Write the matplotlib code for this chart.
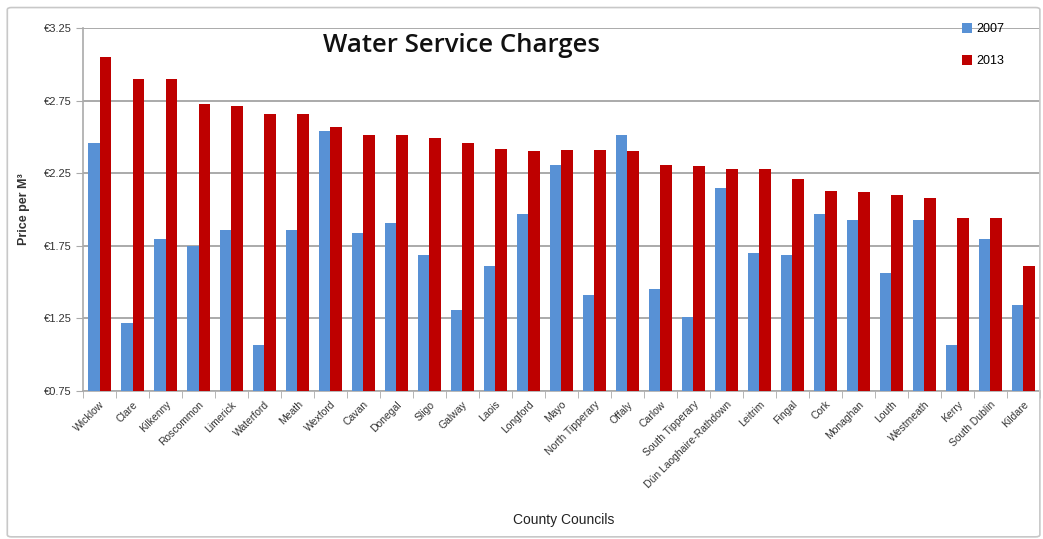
import numpy as np
import matplotlib.pyplot as plt
from matplotlib.patches import FancyBboxPatch

councils = ['Wicklow', 'Clare', 'Kilkenny', 'Roscommon', 'Limerick', 'Waterford',
            'Meath', 'Wexford', 'Cavan', 'Donegal', 'Sligo', 'Galway', 'Laois',
            'Longford', 'Mayo', 'North Tipperary', 'Offaly', 'Carlow',
            'South Tipperary', 'Dún Laoghaire-Rathdown', 'Leitrim', 'Fingal',
            'Cork', 'Monaghan', 'Louth', 'Westmeath', 'Kerry', 'South Dublin',
            'Kildare']
price_2007 = [2.46, 1.22, 1.80, 1.75, 1.86, 1.07, 1.86, 2.54, 1.84, 1.91, 1.69,
              1.31, 1.61, 1.97, 2.31, 1.41, 2.51, 1.45, 1.26, 2.15, 1.70, 1.69,
              1.97, 1.93, 1.56, 1.93, 1.07, 1.80, 1.34]
price_2013 = [3.05, 2.90, 2.90, 2.73, 2.71, 2.66, 2.66, 2.57, 2.51, 2.51, 2.49,
              2.46, 2.42, 2.40, 2.41, 2.41, 2.40, 2.31, 2.30, 2.28, 2.28, 2.21,
              2.13, 2.12, 2.10, 2.08, 1.94, 1.94, 1.61]
yticks = [0.75, 1.25, 1.75, 2.25, 2.75, 3.25]

plt.rcParams['font.family'] = ['Liberation Sans', 'DejaVu Sans']

fig = plt.figure(figsize=(10.43, 5.39), dpi=100)
ax = fig.add_axes([0.0796, 0.2746, 0.9174, 0.6734])

x = np.arange(len(councils))
w = 0.34
ax.bar(x - w / 2, price_2007, w, bottom=0, color='#5891D5', label='2007', zorder=3)
ax.bar(x + w / 2, price_2013, w, bottom=0, color='#BE0000', label='2013', zorder=3)

ax.set_xlim(-0.5, len(councils) - 0.5)
ax.set_ylim(0.75, 3.25)
ax.set_yticks(yticks)
ax.set_yticklabels(['€%.2f' % v for v in yticks], fontsize=8, color='#333333')
ax.yaxis.grid(True, color='#AAAAAA', linewidth=1.4, zorder=0)
ax.tick_params(axis='y', length=5, color='#AAAAAA', pad=3)

# category labels at bar centres, ticks on the group boundaries
ax.set_xticks(x)
ax.set_xticklabels(councils, rotation=45, ha='right', rotation_mode='anchor',
                   fontsize=7.5, color='#333333')
ax.tick_params(axis='x', length=0, pad=6)
ax.set_xticks(np.arange(len(councils) + 1) - 0.5, minor=True)
ax.tick_params(axis='x', which='minor', length=5, color='#AAAAAA')

for side in ['top', 'right']:
    ax.spines[side].set_visible(False)
ax.spines['left'].set_color('#AAAAAA')
ax.spines['bottom'].set_color('#AAAAAA')
ax.spines['left'].set_linewidth(1.2)
ax.spines['bottom'].set_linewidth(1.2)

ax.set_ylabel('Price per M³', fontsize=9, fontweight='bold', color='#333333', labelpad=10)
fig.text(0.54, 0.028, 'County Councils', fontsize=10, color='#222222', ha='center')

fig.text(0.442, 0.915, 'Water Service Charges', fontsize=18.5, fontweight='semibold',
         family=['Open Sans', 'DejaVu Sans'], color='#111111', ha='center', va='center')

fig.legend(loc='upper left', bbox_to_anchor=(0.912, 0.978), frameon=False,
           fontsize=9, handlelength=0.75, handleheight=0.85, handletextpad=0.35,
           labelspacing=1.55)

fig.patches.append(FancyBboxPatch((0.007, 0.004), 0.99, 0.982,
                                  boxstyle='round,pad=0,rounding_size=0.004',
                                  transform=fig.transFigure, fill=False,
                                  edgecolor='#C8C8C8', linewidth=1.2))

fig.savefig('out.png', dpi=100)
